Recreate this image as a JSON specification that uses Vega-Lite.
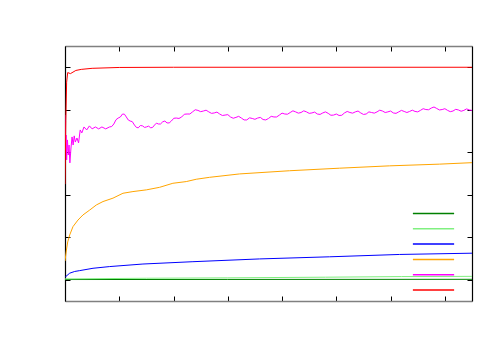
{
  "$schema": "https://vega.github.io/schema/vega-lite/v6.json",
  "width": 407,
  "height": 255,
  "autosize": "none",
  "padding": {"left": 65, "top": 46, "right": 28, "bottom": 49},
  "background": "white",
  "config": {"view": {"stroke": null}},
  "data": {"values": [
    {"s": "g1", "x": 0, "y": 0.001}, {"s": "g1", "x": 3000, "y": 0.0015}, {"s": "g1", "x": 7500, "y": 0.002},
    {"s": "g2", "x": 0, "y": 0.004}, {"s": "g2", "x": 1500, "y": 0.007}, {"s": "g2", "x": 3000, "y": 0.009}, {"s": "g2", "x": 4800, "y": 0.012}, {"s": "g2", "x": 6200, "y": 0.015}, {"s": "g2", "x": 7500, "y": 0.016},
    {"s": "b", "x": 0, "y": 0.011}, {"s": "b", "x": 13, "y": 0.015}, {"s": "b", "x": 87, "y": 0.031}, {"s": "b", "x": 179, "y": 0.039}, {"s": "b", "x": 271, "y": 0.043}, {"s": "b", "x": 516, "y": 0.054}, {"s": "b", "x": 823, "y": 0.062}, {"s": "b", "x": 1436, "y": 0.074}, {"s": "b", "x": 2357, "y": 0.085}, {"s": "b", "x": 3584, "y": 0.098}, {"s": "b", "x": 4873, "y": 0.108}, {"s": "b", "x": 6162, "y": 0.119}, {"s": "b", "x": 7500, "y": 0.125},
    {"s": "o", "x": 0, "y": 0.088}, {"s": "o", "x": 26, "y": 0.14}, {"s": "o", "x": 50, "y": 0.178}, {"s": "o", "x": 87, "y": 0.211}, {"s": "o", "x": 147, "y": 0.25}, {"s": "o", "x": 239, "y": 0.281}, {"s": "o", "x": 331, "y": 0.305}, {"s": "o", "x": 455, "y": 0.328}, {"s": "o", "x": 578, "y": 0.352}, {"s": "o", "x": 700, "y": 0.368}, {"s": "o", "x": 884, "y": 0.384}, {"s": "o", "x": 1068, "y": 0.407}, {"s": "o", "x": 1252, "y": 0.415}, {"s": "o", "x": 1499, "y": 0.423}, {"s": "o", "x": 1743, "y": 0.435}, {"s": "o", "x": 1988, "y": 0.454}, {"s": "o", "x": 2235, "y": 0.462}, {"s": "o", "x": 2419, "y": 0.473}, {"s": "o", "x": 2664, "y": 0.482}, {"s": "o", "x": 3216, "y": 0.498}, {"s": "o", "x": 4137, "y": 0.513}, {"s": "o", "x": 5057, "y": 0.525}, {"s": "o", "x": 5978, "y": 0.536}, {"s": "o", "x": 6898, "y": 0.544}, {"s": "o", "x": 7500, "y": 0.551},
    {"s": "m", "x": 0, "y": 0.775}, {"s": "m", "x": 10, "y": 0.611}, {"s": "m", "x": 20, "y": 0.681}, {"s": "m", "x": 30, "y": 0.564}, {"s": "m", "x": 45, "y": 0.658}, {"s": "m", "x": 60, "y": 0.587}, {"s": "m", "x": 75, "y": 0.634}, {"s": "m", "x": 90, "y": 0.55}, {"s": "m", "x": 110, "y": 0.62}, {"s": "m", "x": 130, "y": 0.672}, {"s": "m", "x": 150, "y": 0.634}, {"s": "m", "x": 170, "y": 0.677}, {"s": "m", "x": 190, "y": 0.648}, {"s": "m", "x": 220, "y": 0.667}, {"s": "m", "x": 250, "y": 0.644}, {"s": "m", "x": 280, "y": 0.705}, {"s": "m", "x": 310, "y": 0.691}, {"s": "m", "x": 350, "y": 0.719}, {"s": "m", "x": 400, "y": 0.705}, {"s": "m", "x": 450, "y": 0.724}, {"s": "m", "x": 500, "y": 0.71}, {"s": "m", "x": 560, "y": 0.719}, {"s": "m", "x": 620, "y": 0.71}, {"s": "m", "x": 680, "y": 0.719}, {"s": "m", "x": 750, "y": 0.71}, {"s": "m", "x": 820, "y": 0.719},
    {"s": "m", "x": 860, "y": 0.721}, {"s": "m", "x": 900, "y": 0.733}, {"s": "m", "x": 940, "y": 0.753}, {"s": "m", "x": 980, "y": 0.761}, {"s": "m", "x": 1020, "y": 0.766}, {"s": "m", "x": 1060, "y": 0.78}, {"s": "m", "x": 1095, "y": 0.779}, {"s": "m", "x": 1130, "y": 0.766}, {"s": "m", "x": 1165, "y": 0.752}, {"s": "m", "x": 1200, "y": 0.747}, {"s": "m", "x": 1240, "y": 0.744}, {"s": "m", "x": 1280, "y": 0.728}, {"s": "m", "x": 1315, "y": 0.717}, {"s": "m", "x": 1350, "y": 0.715}, {"s": "m", "x": 1390, "y": 0.726}, {"s": "m", "x": 1430, "y": 0.724}, {"s": "m", "x": 1465, "y": 0.717}, {"s": "m", "x": 1500, "y": 0.719}, {"s": "m", "x": 1540, "y": 0.723}, {"s": "m", "x": 1580, "y": 0.715}, {"s": "m", "x": 1615, "y": 0.717}, {"s": "m", "x": 1650, "y": 0.728}, {"s": "m", "x": 1685, "y": 0.737}, {"s": "m", "x": 1720, "y": 0.733}, {"s": "m", "x": 1760, "y": 0.733}, {"s": "m", "x": 1800, "y": 0.743}, {"s": "m", "x": 1840, "y": 0.747}, {"s": "m", "x": 1880, "y": 0.738}, {"s": "m", "x": 1920, "y": 0.738}, {"s": "m", "x": 1960, "y": 0.747}, {"s": "m", "x": 2005, "y": 0.76}, {"s": "m", "x": 2050, "y": 0.761}, {"s": "m", "x": 2100, "y": 0.759}, {"s": "m", "x": 2150, "y": 0.766}, {"s": "m", "x": 2200, "y": 0.779}, {"s": "m", "x": 2250, "y": 0.78}, {"s": "m", "x": 2300, "y": 0.78}, {"s": "m", "x": 2350, "y": 0.79}, {"s": "m", "x": 2400, "y": 0.8}, {"s": "m", "x": 2450, "y": 0.797}, {"s": "m", "x": 2500, "y": 0.791}, {"s": "m", "x": 2550, "y": 0.794}, {"s": "m", "x": 2600, "y": 0.798}, {"s": "m", "x": 2650, "y": 0.79}, {"s": "m", "x": 2700, "y": 0.783}, {"s": "m", "x": 2750, "y": 0.785}, {"s": "m", "x": 2800, "y": 0.789}, {"s": "m", "x": 2850, "y": 0.78}, {"s": "m", "x": 2900, "y": 0.773}, {"s": "m", "x": 2950, "y": 0.775}, {"s": "m", "x": 3000, "y": 0.777}, {"s": "m", "x": 3050, "y": 0.766}, {"s": "m", "x": 3100, "y": 0.76}, {"s": "m", "x": 3150, "y": 0.764}, {"s": "m", "x": 3200, "y": 0.769}, {"s": "m", "x": 3250, "y": 0.761}, {"s": "m", "x": 3300, "y": 0.752}, {"s": "m", "x": 3350, "y": 0.752}, {"s": "m", "x": 3400, "y": 0.762}, {"s": "m", "x": 3450, "y": 0.759}, {"s": "m", "x": 3500, "y": 0.755}, {"s": "m", "x": 3550, "y": 0.761}, {"s": "m", "x": 3600, "y": 0.764}, {"s": "m", "x": 3650, "y": 0.754}, {"s": "m", "x": 3700, "y": 0.752}, {"s": "m", "x": 3750, "y": 0.759}, {"s": "m", "x": 3800, "y": 0.769}, {"s": "m", "x": 3850, "y": 0.766}, {"s": "m", "x": 3900, "y": 0.766}, {"s": "m", "x": 3950, "y": 0.775}, {"s": "m", "x": 4000, "y": 0.784}, {"s": "m", "x": 4050, "y": 0.78}, {"s": "m", "x": 4100, "y": 0.779}, {"s": "m", "x": 4150, "y": 0.787}, {"s": "m", "x": 4200, "y": 0.795}, {"s": "m", "x": 4250, "y": 0.79}, {"s": "m", "x": 4300, "y": 0.784}, {"s": "m", "x": 4350, "y": 0.787}, {"s": "m", "x": 4400, "y": 0.795}, {"s": "m", "x": 4450, "y": 0.79}, {"s": "m", "x": 4500, "y": 0.783}, {"s": "m", "x": 4550, "y": 0.785}, {"s": "m", "x": 4600, "y": 0.789}, {"s": "m", "x": 4650, "y": 0.78}, {"s": "m", "x": 4700, "y": 0.778}, {"s": "m", "x": 4750, "y": 0.785}, {"s": "m", "x": 4800, "y": 0.79}, {"s": "m", "x": 4850, "y": 0.783}, {"s": "m", "x": 4900, "y": 0.774}, {"s": "m", "x": 4950, "y": 0.775}, {"s": "m", "x": 5000, "y": 0.78}, {"s": "m", "x": 5050, "y": 0.773}, {"s": "m", "x": 5100, "y": 0.774}, {"s": "m", "x": 5150, "y": 0.785}, {"s": "m", "x": 5200, "y": 0.792}, {"s": "m", "x": 5250, "y": 0.787}, {"s": "m", "x": 5300, "y": 0.784}, {"s": "m", "x": 5350, "y": 0.79}, {"s": "m", "x": 5400, "y": 0.794}, {"s": "m", "x": 5450, "y": 0.785}, {"s": "m", "x": 5500, "y": 0.778}, {"s": "m", "x": 5550, "y": 0.78}, {"s": "m", "x": 5600, "y": 0.79}, {"s": "m", "x": 5650, "y": 0.787}, {"s": "m", "x": 5700, "y": 0.784}, {"s": "m", "x": 5750, "y": 0.79}, {"s": "m", "x": 5800, "y": 0.798}, {"s": "m", "x": 5850, "y": 0.794}, {"s": "m", "x": 5900, "y": 0.787}, {"s": "m", "x": 5950, "y": 0.79}, {"s": "m", "x": 6000, "y": 0.794}, {"s": "m", "x": 6050, "y": 0.785}, {"s": "m", "x": 6100, "y": 0.783}, {"s": "m", "x": 6150, "y": 0.79}, {"s": "m", "x": 6200, "y": 0.797}, {"s": "m", "x": 6250, "y": 0.792}, {"s": "m", "x": 6300, "y": 0.787}, {"s": "m", "x": 6350, "y": 0.792}, {"s": "m", "x": 6400, "y": 0.798}, {"s": "m", "x": 6450, "y": 0.792}, {"s": "m", "x": 6500, "y": 0.79}, {"s": "m", "x": 6550, "y": 0.797}, {"s": "m", "x": 6600, "y": 0.805}, {"s": "m", "x": 6650, "y": 0.801}, {"s": "m", "x": 6700, "y": 0.8}, {"s": "m", "x": 6750, "y": 0.808}, {"s": "m", "x": 6800, "y": 0.813}, {"s": "m", "x": 6850, "y": 0.806}, {"s": "m", "x": 6900, "y": 0.799}, {"s": "m", "x": 6950, "y": 0.801}, {"s": "m", "x": 7000, "y": 0.805}, {"s": "m", "x": 7050, "y": 0.797}, {"s": "m", "x": 7100, "y": 0.791}, {"s": "m", "x": 7150, "y": 0.794}, {"s": "m", "x": 7200, "y": 0.802}, {"s": "m", "x": 7250, "y": 0.799}, {"s": "m", "x": 7300, "y": 0.793}, {"s": "m", "x": 7350, "y": 0.797}, {"s": "m", "x": 7400, "y": 0.804}, {"s": "m", "x": 7450, "y": 0.799}, {"s": "m", "x": 7500, "y": 0.797},
    {"s": "r", "x": 0, "y": 0.45}, {"s": "r", "x": 15, "y": 0.75}, {"s": "r", "x": 30, "y": 0.93}, {"s": "r", "x": 50, "y": 0.975}, {"s": "r", "x": 100, "y": 0.97}, {"s": "r", "x": 200, "y": 0.985}, {"s": "r", "x": 300, "y": 0.99}, {"s": "r", "x": 500, "y": 0.995}, {"s": "r", "x": 1000, "y": 0.999}, {"s": "r", "x": 2000, "y": 1.0}, {"s": "r", "x": 7500, "y": 1.0}
  ]},
  "layer": [
    {
      "mark": {"type": "line", "strokeWidth": 1, "clip": true},
      "encoding": {
        "x": {"field": "x", "type": "quantitative", "scale": {"domain": [0, 7500], "nice": false, "zero": false},
              "axis": {"orient": "bottom", "values": [0, 1000, 2000, 3000, 4000, 5000, 6000, 7000], "labels": false, "grid": false, "title": null, "tickSize": -5, "tickColor": "#000000", "domainColor": "#808080", "domainWidth": 1.5}},
        "y": {"field": "y", "type": "quantitative", "scale": {"domain": [-0.1, 1.1], "nice": false, "zero": false},
              "axis": {"orient": "left", "values": [0, 0.2, 0.4, 0.6, 0.8, 1.0], "labels": false, "grid": false, "title": null, "tickSize": -5, "tickColor": "#000000", "domainColor": "#000000", "domainWidth": 1.2}},
        "color": {"field": "s", "type": "nominal",
                  "scale": {"domain": ["g1", "g2", "b", "o", "m", "r"], "range": ["#008000", "#80f080", "#0000ff", "#ffa500", "#ff00ff", "#ff0000"]},
                  "legend": {"orient": "none", "legendX": 363, "legendY": 162, "title": null, "labelExpr": "''", "symbolType": "M-10,0H10", "symbolSize": 17, "symbolStrokeWidth": 1.5, "padding": 0, "rowPadding": 3.3, "labelFontSize": 11}}
      }
    },
    {
      "mark": {"type": "line", "strokeOpacity": 0},
      "encoding": {
        "x": {"field": "x", "type": "quantitative",
              "axis": {"orient": "top", "values": [0, 1000, 2000, 3000, 4000, 5000, 6000, 7000], "labels": false, "grid": false, "title": null, "tickSize": -5, "tickColor": "#000000", "domainColor": "#808080", "domainWidth": 1.5}},
        "y": {"field": "y", "type": "quantitative",
              "axis": {"orient": "right", "values": [0, 0.2, 0.4, 0.6, 0.8, 1.0], "labels": false, "grid": false, "title": null, "tickSize": -5, "tickColor": "#000000", "domainColor": "#000000", "domainWidth": 1.2}},
        "detail": {"field": "s", "type": "nominal"}
      }
    }
  ],
  "resolve": {"axis": {"x": "independent", "y": "independent"}}
}
